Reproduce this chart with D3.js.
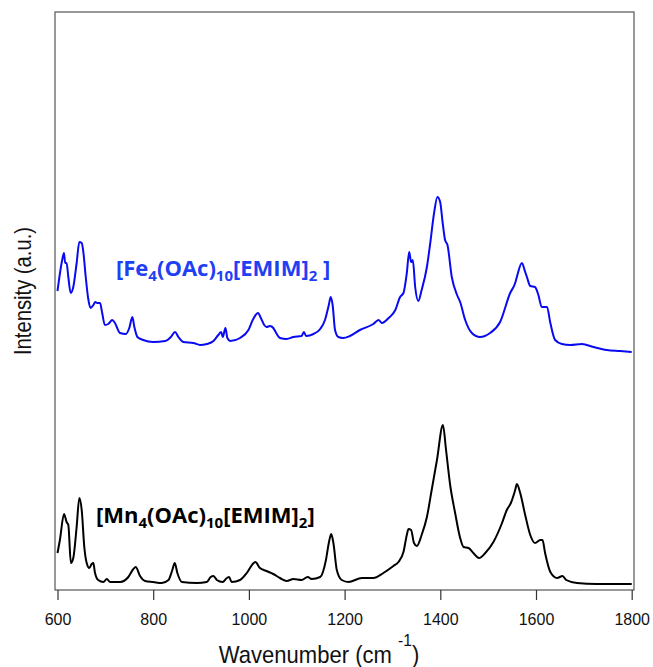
<!DOCTYPE html>
<html><head><meta charset="utf-8">
<script src="https://cdn.jsdelivr.net/npm/d3@7"></script>
<style>body{margin:0;background:#fff}svg{display:block}</style>
</head><body>
<script>
const xTicks = [600, 800, 1000, 1200, 1400, 1600, 1800];
const feWave = [600,609,613.6,616,619,622.6,627.6,633,640,645.6,650.6,654,659,664,669,675,679,683,689,693,699,706,714.6,720,730.7,743,750,756.4,760.6,767,779,800,825,837,845.6,852.6,863,884,898,912,926,936,942,945.4,951,955,961,981.5,999,1009,1019,1025,1032,1037,1044,1051,1057,1065,1079,1093,1110,1115,1119.5,1135,1149,1159,1167,1171,1175,1180,1187,1197,1211,1232,1260,1271,1278,1292,1306,1316,1323,1330,1335,1339,1342.6,1347.5,1354,1361,1372,1379,1387,1394,1399.7,1405,1410,1415,1424,1435,1441.5,1452,1466,1483,1504,1525,1546,1556.5,1560,1570.5,1577.4,1581,1588,1598,1605,1612,1623,1630,1640,1654,1671.5,1696,1720,1748,1776,1800];
const feInt = [299,328,337,327,327,313,297,303,327,348,347,338,313,292,282,285,288,287,287,278,265,266,270,267,257,256,262,273,263,253,250,248,249,253,258,253,248,247,245,246,249,255,258,253,262,252,249,252,260,271,277,272,265,263,264,262,257,252,251,253,254,258,254,256,261,270,285,293,285,260,253,252,254,260,266,270,267,272,280,293,297,317,338,328,330,303,289,300,323,347,377,393,388,367,350,345,313,295,288,270,257,253,257,268,297,307,313,327,318,313,304,303,295,283,283,267,250,246,245,246,243,240,239,238];
const mnWave = [600,605,613.6,619,622.6,628,633,640,645.6,650.6,656,661,666.5,671.5,675,678,685,696,703,710,731,748,757,763.4,772.5,783,800,818,832,840,845,850.5,860,891,912,920,926,933,945,954,958.5,964,981.5,995.6,1008,1013.6,1023,1037,1051,1065,1079,1093,1110,1123,1131,1149,1161,1167,1172,1176.6,1183.7,1194,1208,1236,1260,1281,1302,1312.5,1323,1330,1333.5,1339,1345,1351,1361,1372,1382,1393,1405.5,1412,1420.6,1431,1441.5,1448.5,1459,1469,1481,1494,1511,1529,1539,1547.5,1556.5,1560,1567,1577.4,1588,1598,1609,1613.6,1619,1630,1644,1655.5,1663,1685.5,1727,1769,1800];
const mnInt = [37,50,76,68,65,27,32,63,92,80,43,27,22,26,27,18,10,8,11,8,8,13,20,23,14,9,8,7,10,20,27,17,8,7,8,13,14,10,8,12,13,8,10,17,26,28,22,19,16,12,9,11,10,13,11,13,30,47,56,47,20,10,8,12,12,17,24,28,38,55,61,60,47,44,55,73,100,130,165,140,105,77,52,43,42,37,32,37,48,67,80,87,100,106,97,75,55,47,50,50,37,18,12,14,10,7,6,6,6];

const W = 653, H = 667;
const m = {left: 55, right: 634, top: 12, bottom: 590};
const svg = d3.select("body").append("svg").attr("width", W).attr("height", H);

const x = d3.scaleLinear().domain([600, 1800]).range([57.5, 631.7]);
const y = d3.scaleLinear().domain([0, 578]).range([m.bottom, m.top]);

svg.append("rect").attr("x", m.left).attr("y", m.top)
  .attr("width", m.right - m.left).attr("height", m.bottom - m.top)
  .attr("fill", "none").attr("stroke", "#555").attr("stroke-width", 1.2);

const xAxis = svg.append("g").attr("transform", `translate(0,${m.bottom})`)
  .call(d3.axisBottom(x).tickValues(xTicks).tickSize(10).tickPadding(14).tickFormat(d3.format("d")));
xAxis.select(".domain").remove();
xAxis.selectAll("line").attr("stroke", "#333").attr("stroke-width", 1.2);
xAxis.selectAll("text").attr("font-family", "Liberation Sans, Arial, sans-serif").attr("font-size", 16).attr("fill", "#111");

const line = d3.line().x(d => x(d[0])).y(d => y(d[1])).curve(d3.curveMonotoneX);
svg.append("path").datum(d3.zip(feWave, feInt)).attr("d", line)
  .attr("fill", "none").attr("stroke", "#0a0af0").attr("stroke-width", 2);
svg.append("path").datum(d3.zip(mnWave, mnInt)).attr("d", line)
  .attr("fill", "none").attr("stroke", "#000").attr("stroke-width", 2);

function label(tx, ty, color, parts) {
  const t = svg.append("text").attr("x", tx).attr("y", ty)
    .attr("font-family", "Open Sans, Liberation Sans, sans-serif").attr("font-weight", "bold")
    .attr("font-size", 22).attr("fill", color);
  parts.forEach(p => {
    const s = t.append("tspan").text(p[0]);
    if (p[1] === "sub") s.attr("font-size", 15).attr("dy", 5);
    else if (p[1] === "up") s.attr("dy", -5);
  });
  return t;
}
label(116, 276, "#1e40f5", [["[Fe"], ["4", "sub"], ["(OAc)", "up"], ["10", "sub"], ["[EMIM]", "up"], ["2", "sub"], [" ]", "up"]]);
label(96, 523, "#000", [["[Mn"], ["4", "sub"], ["(OAc)", "up"], ["10", "sub"], ["[EMIM]", "up"], ["2", "sub"], ["]", "up"]]);

const xt = svg.append("text").attr("transform", "translate(319,663) scale(0.92,1)").attr("text-anchor", "middle")
  .attr("font-family", "Liberation Sans, Arial, sans-serif").attr("font-size", 24).attr("fill", "#111");
xt.append("tspan").text("Wavenumber (cm ");
xt.append("tspan").text("-1").attr("font-size", 17).attr("dy", -17);
xt.append("tspan").text(")").attr("dy", 17);

svg.append("text").attr("transform", "translate(30.5,291) rotate(-90) scale(0.88,1)").attr("text-anchor", "middle")
  .attr("font-family", "Liberation Sans, Arial, sans-serif").attr("font-size", 23).attr("fill", "#111")
  .text("Intensity (a.u.)");
</script>
</body></html>
